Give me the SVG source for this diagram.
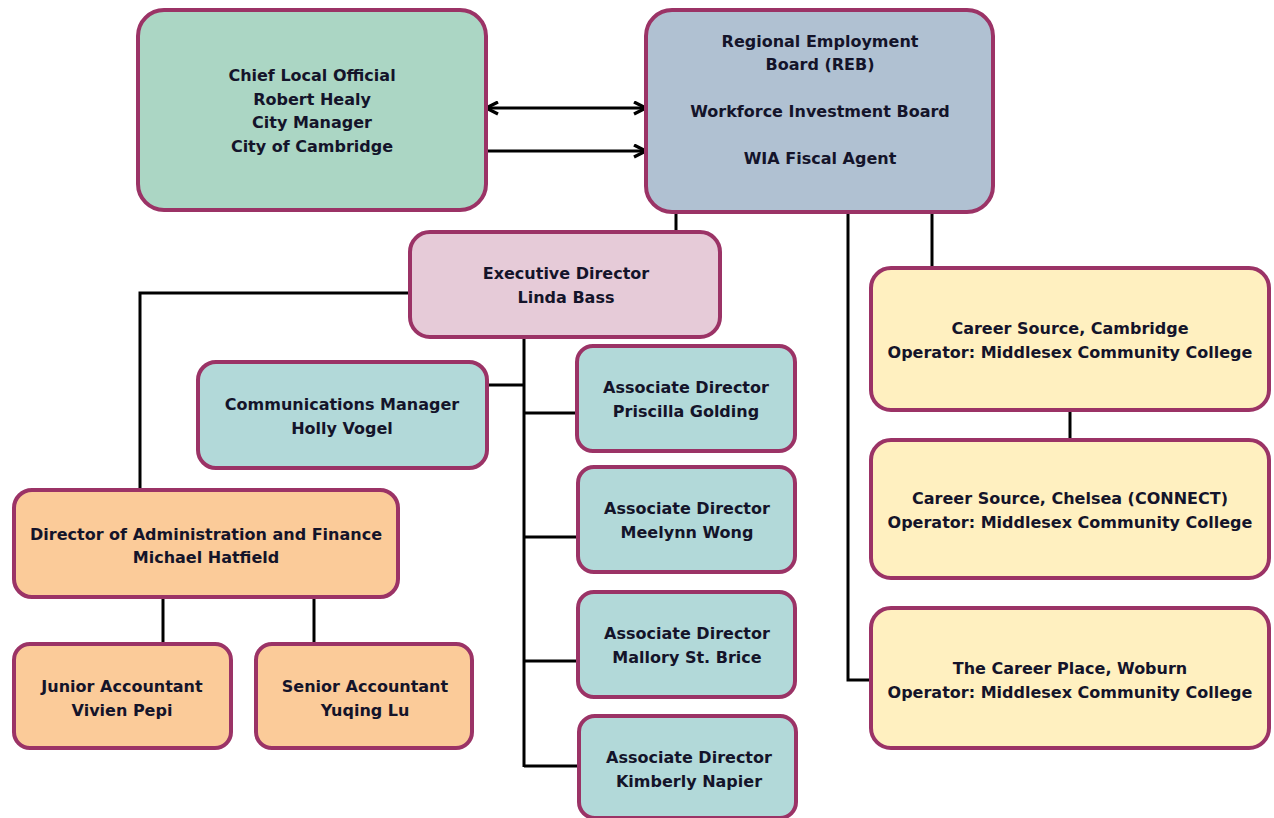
<svg xmlns="http://www.w3.org/2000/svg" width="1274" height="818" viewBox="0 0 1274 818">
<style>
.box{stroke:#9B3366;stroke-width:4}
.green{fill:#ABD6C4}.blue{fill:#B0C1D2}.pink{fill:#E6CBD8}.teal{fill:#B2D9D9}.peach{fill:#FBCB99}.yellow{fill:#FFF0C0}
text{font-family:"DejaVu Sans",Verdana,sans-serif;font-weight:bold;font-size:16px;fill:#14142a;text-anchor:middle}
.conn line,.conn polyline{stroke:#000;stroke-width:3;fill:none}
</style>
<defs>
<marker id="ah" viewBox="0 0 10 10" refX="9" refY="5" markerWidth="5" markerHeight="5" orient="auto-start-reverse" markerUnits="strokeWidth">
<path d="M1,1 L9,5 L1,9" fill="none" stroke="#000" stroke-width="2.2"/>
</marker>
</defs>
<rect width="1274" height="818" fill="#fff"/>
<g class="conn">
<line x1="486" y1="108" x2="646" y2="108" marker-start="url(#ah)" marker-end="url(#ah)"/>
<line x1="484" y1="151" x2="646" y2="151" marker-end="url(#ah)"/>
<line x1="676" y1="212" x2="676" y2="232"/>
<polyline points="410,293 140,293 140,490"/>
<line x1="524" y1="337" x2="524" y2="767"/>
<line x1="487" y1="385" x2="524" y2="385"/>
<line x1="524" y1="413" x2="577" y2="413"/>
<line x1="524" y1="537" x2="577" y2="537"/>
<line x1="524" y1="661" x2="577" y2="661"/>
<line x1="524" y1="766" x2="579" y2="766"/>
<line x1="163" y1="597" x2="163" y2="644"/>
<line x1="314" y1="597" x2="314" y2="644"/>
<line x1="932" y1="212" x2="932" y2="268"/>
<line x1="1070" y1="410" x2="1070" y2="440"/>
<polyline points="848,212 848,680 871,680"/>
</g>
<g id="chief-local-official">
<rect class="box green" x="138" y="10" width="348" height="200" rx="26"/>
<text x="312" y="81">Chief Local Official</text>
<text x="312" y="105">Robert Healy</text>
<text x="312" y="128">City Manager</text>
<text x="312" y="152">City of Cambridge</text>
</g>
<g id="reb">
<rect class="box blue" x="646" y="10" width="347" height="202" rx="26"/>
<text x="820" y="47">Regional Employment</text>
<text x="820" y="70">Board (REB)</text>
<text x="820" y="117">Workforce Investment Board</text>
<text x="820" y="164">WIA Fiscal Agent</text>
</g>
<g id="executive-director">
<rect class="box pink" x="410" y="232" width="310" height="105" rx="20"/>
<text x="566" y="279">Executive Director</text>
<text x="566" y="303">Linda Bass</text>
</g>
<g id="communications-manager">
<rect class="box teal" x="198" y="362" width="289" height="106" rx="18"/>
<text x="342" y="410">Communications Manager</text>
<text x="342" y="434">Holly Vogel</text>
</g>
<g id="assoc-golding">
<rect class="box teal" x="577" y="346" width="218" height="105" rx="16"/>
<text x="686" y="393">Associate Director</text>
<text x="686" y="417">Priscilla Golding</text>
</g>
<g id="assoc-wong">
<rect class="box teal" x="578" y="467" width="217" height="105" rx="16"/>
<text x="687" y="514">Associate Director</text>
<text x="687" y="538">Meelynn Wong</text>
</g>
<g id="assoc-stbrice">
<rect class="box teal" x="578" y="592" width="217" height="105" rx="16"/>
<text x="687" y="639">Associate Director</text>
<text x="687" y="663">Mallory St. Brice</text>
</g>
<g id="assoc-napier">
<rect class="box teal" x="579" y="716" width="217" height="102" rx="16"/>
<text x="689" y="763">Associate Director</text>
<text x="689" y="787">Kimberly Napier</text>
</g>
<g id="director-admin-finance">
<rect class="box peach" x="14" y="490" width="384" height="107" rx="18"/>
<text x="206" y="540">Director of Administration and Finance</text>
<text x="206" y="563">Michael Hatfield</text>
</g>
<g id="junior-accountant">
<rect class="box peach" x="14" y="644" width="217" height="104" rx="16"/>
<text x="122" y="692">Junior Accountant</text>
<text x="122" y="716">Vivien Pepi</text>
</g>
<g id="senior-accountant">
<rect class="box peach" x="256" y="644" width="216" height="104" rx="16"/>
<text x="365" y="692">Senior Accountant</text>
<text x="365" y="716">Yuqing Lu</text>
</g>
<g id="career-source-cambridge">
<rect class="box yellow" x="871" y="268" width="398" height="142" rx="20"/>
<text x="1070" y="334">Career Source, Cambridge</text>
<text x="1070" y="358">Operator: Middlesex Community College</text>
</g>
<g id="career-source-chelsea">
<rect class="box yellow" x="871" y="440" width="398" height="138" rx="20"/>
<text x="1070" y="504">Career Source, Chelsea (CONNECT)</text>
<text x="1070" y="528">Operator: Middlesex Community College</text>
</g>
<g id="career-place-woburn">
<rect class="box yellow" x="871" y="608" width="398" height="140" rx="20"/>
<text x="1070" y="674">The Career Place, Woburn</text>
<text x="1070" y="698">Operator: Middlesex Community College</text>
</g>
</svg>
